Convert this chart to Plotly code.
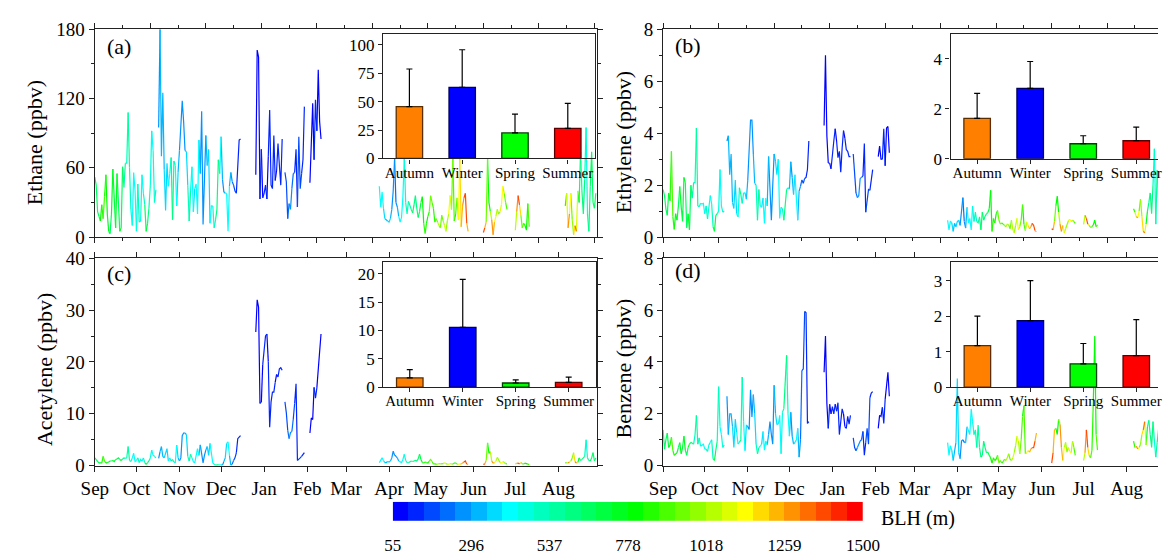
import datetime as dt
import plotly.graph_objects as go

# ---------------- data ----------------
START = dt.datetime(2013, 9, 1)
SEG_START = [0, 46, 116, 137, 155, 205, 280, 303, 339]   # day index from Sep 1
SEG_LEN = [45, 60, 20, 15, 9, 65, 18, 11, 23]

ethane = [52, 45, 22, 18, 14, 28, 16, 35, 54, 20, 5, 3, 20, 59, 35, 8, 55, 30, 5, 8,
          61, 43, 64, 64, 108, 60, 24, 10, 56, 40, 5, 46, 13, 14, 54, 38, 28, 5, 12, 25,
          45, 92, 75, 30, 41,
          95, 180, 70, 125, 59, 23, 64, 44, 55, 69, 15, 66, 62, 27, 56, 75, 102, 118, 100, 75,
          74, 45, 14, 40, 61, 22, 42, 46, 20, 84, 55, 109, 11, 50, 88, 62, 76, 12, 27, 27,
          8, 15, 24, 67, 55, 87, 50, 39, 38, 38, 5, 44, 56, 48, 45, 40, 38, 60, 84, 85,
          54, 162, 156, 33, 76, 34, 38, 45, 33, 70, 110, 45, 42, 88, 49, 58, 81, 62, 45, 85,
          56, 48, 16, 29, 24, 42, 55, 56, 76, 26, 87, 42, 55, 67, 113,
          47, 80, 116, 67, 119, 92, 145, 100, 85,
          44, 26, 39, 25, 16, 15, 14, 13, 16, 24, 40, 68, 30, 26, 18, 13, 17, 35, 68, 30,
          20, 31, 28, 24, 21, 28, 36, 25, 17, 22, 30, 35, 12, 3, 12, 18, 22, 36, 30, 25,
          13, 16, 13, 10, 8, 19, 14, 10, 5, 14, 20, 36, 24, 68, 14, 20, 34, 15, 68, 9,
          27, 34, 38, 12, 5,
          4, 8, 13, 68, 30, 22, 15, 2, 13, 18, 24, 20, 22, 28, 44, 38, 30, 24,
          6, 22, 36, 28, 19, 8, 12, 10, 6, 29, 9,
          27, 38, 8, 20, 38, 15, 2, 10, 5, 40, 30, 74, 40, 20, 50, 95, 20, 5, 44, 74, 30, 25, 38]

ethylene = [1.83, 1.6, 1.09, 0.84, 1.7, 1.4, 3.3, 0.8, 0.3, 0.9, 0.65, 1.2, 1.95, 1.2, 0.6,
            2.3, 2.1, 0.35, 0.9, 0.28, 2.0, 1.5, 2.1, 2.1, 4.2, 1.2, 1.17, 1.3, 1.27, 1.3,
            0.9, 1.2, 0.7, 1.1, 1.6, 1.27, 0.4, 0.22, 0.84, 0.9, 1.0, 2.6, 1.2, 0.96, 1.0,
            3.7, 3.9, 2.4, 3.2, 1.33, 1.1, 2.2, 0.9, 0.78, 1.9, 1.64, 1.3, 1.7, 1.7, 1.46,
            2.2, 3.3, 4.5, 4.5, 3.2, 2.07, 2.0, 0.65, 1.83, 1.2, 1.15, 1.5, 0.53, 1.5, 1.2,
            3.1, 1.9, 0.65, 2.0, 3.2, 2.9, 2.4, 3.0, 0.72, 1.15, 1.09, 0.65, 1.33, 1.83, 1.9,
            1.85, 2.9, 2.3, 1.64, 2.4, 1.27, 0.65, 1.77, 1.95, 2.2, 2.07, 2.26, 2.3, 2.6, 3.7,
            4.3, 7.0, 3.9, 2.85, 2.85, 2.63, 3.3, 3.7, 4.17, 3.7, 3.06, 3.3, 2.5, 3.43, 4.1,
            3.8, 3.37, 3.3, 3.1, 3.1,
            3.2, 2.4, 1.7, 1.52, 1.6, 2.26, 2.3, 2.35, 3.6, 0.96, 1.46, 1.83, 1.8, 2.26, 2.6,
            3.1, 3.5, 3.0, 3.0, 4.17, 2.75, 4.2, 4.26, 3.25,
            0.65, 0.28, 0.62, 0.55, 0.22, 0.53, 0.4, 0.6, 0.65, 0.45, 1.09, 1.52, 0.6, 0.35, 1.15,
            0.55, 0.72, 0.28, 1.2, 0.6, 0.96, 0.6, 0.55, 0.78, 0.28, 0.96, 0.65, 0.8, 0.9, 0.95,
            1.09, 1.8, 0.22, 0.72, 0.55, 0.9, 1.02, 0.65, 0.5, 0.55, 0.5, 0.45, 0.4, 0.5, 0.47,
            0.32, 0.65, 0.3, 0.16, 0.45, 0.72, 0.28, 0.4, 0.65, 1.25, 0.5, 0.25, 0.59, 0.45, 0.32,
            0.4, 0.53, 0.45, 0.25, 0.2,
            0.32, 0.28, 0.6, 1.2, 1.58, 0.96, 0.5, 0.22, 0.45, 0.16, 0.32, 0.5, 0.62, 0.69, 0.6,
            0.65, 0.6, 0.53,
            0.49, 0.84, 0.72, 0.5, 0.45, 0.37, 0.4, 0.47, 0.65, 0.4, 0.47,
            1.09, 0.96, 0.78, 0.75, 1.0, 1.46, 0.8, 0.22, 0.16, 0.5, 1.0, 1.33, 1.7, 0.9, 2.0,
            3.4, 0.5, 2.57, 1.5, 2.2, 1.6, 1.2, 1.8]

acetylene = [1.5, 1.2, 0.8, 0.5, 0.6, 0.5, 1.8, 0.9, 0.5, 0.6, 0.7, 0.9, 0.9, 1.0, 0.8,
             1.2, 1.3, 1.5, 1.2, 1.0, 1.3, 1.5, 1.4, 1.5, 3.7, 1.0, 0.8, 1.5, 2.4, 0.8,
             1.0, 1.5, 0.6, 1.2, 0.9, 1.5, 0.6, 0.25, 0.6, 0.9, 1.5, 3.0, 2.0, 1.8, 1.5,
             1.4, 2.7, 3.7, 1.8, 1.5, 2.5, 3.3, 0.9, 1.5, 0.9, 1.2, 0.7, 0.55, 4.0, 1.5,
             0.9, 1.5, 5.8, 6.3, 6.3, 6.0, 1.8, 0.9, 2.2, 1.5, 0.8, 0.55, 1.8, 3.3, 2.0,
             4.0, 2.4, 0.55, 2.0, 3.0, 3.7, 2.0, 4.3, 2.1, 0.55, 0.25, 0.15, 0.1, 0.2, 0.1,
             0.15, 0.1, 0.8, 1.5, 4.3, 4.6, 2.0, 0.1, 0.3, 1.0, 1.5, 2.5, 5.2, 5.5, 5.8,
             25.8, 32.0, 30.6, 12.0, 12.3, 19.5, 22.0, 25.0, 25.4, 20.1, 7.4, 12.3, 14.2, 14.2,
             16.1, 17.6, 17.1, 18.7, 18.9, 18.4,
             12.3, 10.2, 6.8, 5.2, 6.4, 6.6, 9.0, 12.0, 15.8, 1.0, 1.2, 1.5, 1.8, 2.1, 2.5,
             6.3, 9.2, 8.9, 15.1, 13.0, 15.0, 19.5, 22.0, 25.4,
             0.6, 1.2, 1.5, 1.0, 0.6, 0.6, 0.8, 0.7, 0.9, 1.5, 2.8, 2.0, 1.8, 1.5, 0.9,
             0.7, 0.6, 1.2, 2.2, 1.0, 0.6, 0.55, 0.7, 0.9, 0.8, 0.9, 1.0, 0.9, 1.3, 2.2,
             1.2, 0.6, 0.55, 0.7, 0.6, 0.5, 0.9, 1.2, 0.8, 0.3, 0.4, 0.25, 0.3, 0.4, 0.35,
             0.3, 0.4, 0.55, 0.4, 0.3, 0.25, 0.4, 0.35, 0.3, 0.5, 0.55, 0.3, 0.25, 0.35, 0.3,
             0.5, 0.7, 0.9, 0.3, 0.25,
             0.25, 0.3, 1.0, 4.4, 2.4, 2.7, 0.9, 0.5, 0.6, 0.9, 1.6, 1.2, 0.6, 0.5, 0.8,
             0.6, 0.4, 0.35,
             0.3, 0.45, 0.5, 0.35, 0.6, 0.4, 0.3, 0.5, 0.35, 0.3, 0.2,
             0.55, 0.6, 0.5, 0.7, 0.9, 1.5, 2.5, 0.8, 0.5, 0.6, 1.5, 1.0, 1.2, 1.5, 1.8,
             5.0, 1.5, 1.0, 0.9, 1.5, 2.5, 0.9, 1.5]

benzene = [1.38, 0.64, 1.0, 1.26, 0.7, 0.8, 1.1, 0.6, 0.4, 0.45, 0.5, 0.7, 0.89, 0.46, 0.7,
           1.14, 0.6, 0.4, 0.7, 0.83, 0.9, 0.85, 0.83, 1.2, 1.94, 0.83, 1.07, 0.75, 0.8, 0.83,
           0.65, 0.64, 0.55, 0.8, 0.9, 1.0, 0.27, 0.2, 0.6, 0.95, 3.05, 1.5, 1.2, 0.7, 0.8,
           2.68, 1.2, 2.0, 2.0, 1.5, 0.7, 1.8, 1.3, 0.83, 0.9, 1.0, 3.42, 1.7, 0.58, 1.57,
           1.5, 1.4, 2.93, 1.88, 2.74, 2.0, 0.83, 0.46, 0.7, 0.75, 0.83, 1.32, 0.6, 0.95, 0.8,
           1.2, 1.7, 1.2, 0.83, 3.1, 2.0, 1.6, 1.6, 1.94, 0.46, 2.06, 2.2, 3.1, 4.26, 2.0,
           1.14, 2.06, 1.14, 0.83, 0.9, 1.0, 1.44, 0.33, 1.0, 3.67, 3.73, 5.95, 5.9, 1.63, 1.7,
           3.6, 5.0, 2.4, 1.44, 2.37, 2.0, 2.28, 2.0, 2.37, 2.1, 2.43, 1.2, 1.6, 2.19, 2.0,
           1.5, 1.44, 1.9, 1.6, 1.94,
           1.07, 0.7, 0.58, 0.7, 0.83, 0.95, 1.0, 1.32, 0.4, 0.9, 1.44, 0.83, 2.62, 2.8, 2.86,
           1.44, 1.94, 1.9, 2.25, 1.63, 2.56, 3.17, 3.6, 2.68,
           0.89, 0.4, 0.77, 0.6, 0.2, 0.6, 0.9, 3.36, 0.5, 0.27, 0.95, 1.0, 0.9, 0.89, 1.5,
           1.38, 1.2, 2.19, 1.7, 1.2, 1.38, 0.7, 1.57, 0.7, 0.33, 0.4, 0.95, 0.7, 0.5, 0.52,
           0.4, 0.3, 0.1, 0.3, 0.2, 0.25, 0.4, 0.1, 0.2, 0.1, 0.15, 0.25, 0.2, 0.3, 0.46,
           0.25, 0.2, 0.3, 0.5, 0.77, 1.14, 0.95, 0.45, 1.0, 1.9, 2.31, 0.46, 0.5, 0.58, 0.52,
           0.64, 0.7, 0.7, 0.95, 1.26,
           0.1, 0.5, 1.38, 1.44, 1.2, 1.8, 1.6, 0.7, 0.2, 0.7, 0.9, 0.52, 0.7, 0.55, 0.5,
           0.95, 0.7, 0.4,
           0.2, 0.5, 1.38, 0.7, 0.4, 0.3, 0.6, 2.5, 5.0, 1.2, 0.6,
           0.95, 0.7, 0.75, 0.64, 0.7, 0.83, 1.2, 1.38, 1.7, 0.8, 1.5, 1.75, 1.2, 0.7, 1.7,
           0.95, 0.33, 0.9, 1.4, 0.8, 1.1, 1.5, 0.9]

blh = [700, 650, 620, 680, 760, 820, 900, 880, 850, 760, 720, 650, 700, 760, 620,
       800, 700, 650, 700, 760, 600, 560, 520, 480, 540, 600, 470, 450, 430, 420,
       450, 480, 500, 470, 430, 450, 600, 720, 700, 560, 480, 450, 420, 500, 480,
       300, 280, 320, 300, 350, 380, 330, 400, 450, 520, 650, 480, 420, 380, 350,
       300, 280, 250, 260, 300, 350, 420, 620, 480, 420, 380, 400, 450, 420, 380,
       300, 260, 250, 280, 300, 350, 400, 380, 420, 450, 500, 520, 680, 560, 450,
       380, 300, 280, 350, 420, 450, 380, 300, 250, 200, 180, 150, 130, 150, 140,
       80, 70, 90, 100, 110, 90, 120, 140, 100, 90, 120, 150, 130, 110, 100, 90, 120, 140, 130, 110,
       150, 180, 200, 260, 300, 220, 180, 150, 130, 140, 200, 170, 150, 120, 100,
       100, 90, 80, 100, 120, 110, 90, 80, 100,
       450, 400, 420, 380, 350, 330, 300, 400, 360, 300, 280, 220, 260, 300, 380,
       420, 450, 400, 430, 480, 520, 550, 580, 560, 620, 650, 600, 580, 620, 680,
       720, 760, 820, 880, 850, 800, 900, 950, 920, 880, 850, 900, 1000, 1050, 950,
       900, 980, 1100, 1050, 950, 1150, 1100, 1000, 900, 850, 800, 1000, 1100, 1150, 1200,
       1250, 1350, 1420, 1300, 1200,
       1400, 1350, 1100, 800, 780, 850, 1250, 1300, 1200, 1100, 1000, 950, 1050, 1150, 1100,
       950, 900, 850,
       900, 1200, 1400, 1350, 1000, 900, 850, 820, 800, 850, 900,
       800, 900, 1250, 1300, 1000, 900, 1100, 1300, 1350, 850, 700, 550, 600, 650, 600,
       450, 520, 560, 650, 700, 600, 650, 700]

SEASONS = ["Autumn", "Winter", "Spring", "Summer"]
ethane_mean = [45.6, 62.5, 22.5, 26.5]
ethane_err = [33.0, 33.0, 16.5, 22.0]
ethylene_mean = [1.62, 2.82, 0.6, 0.72]
ethylene_err = [1.0, 1.08, 0.32, 0.55]
acetylene_mean = [1.65, 10.55, 0.75, 0.85]
acetylene_err = [1.45, 8.45, 0.55, 0.95]
benzene_mean = [1.17, 1.87, 0.66, 0.89]
benzene_err = [0.83, 1.13, 0.57, 1.01]

BLH_MIN, BLH_MAX, N_BINS = 55, 1500, 30
BLH_TICKS = [55, 296, 537, 778, 1018, 1259, 1500]
BAR_COLORS = ["#ff8000", "#0000ff", "#00ff00", "#ff0000"]
BAR_EDGES = ["#5a2d00", "#00005a", "#004000", "#5a0000"]

# ---------------- helpers ----------------
W, H = 1175, 558
FONT = "Liberation Serif"
AX = "#222222"


def fx(p):
    return p / W


def fy(p):
    return 1 - p / H


def day_date(d):
    return (START + dt.timedelta(days=d)).strftime("%Y-%m-%d %H:%M")


def palette():
    stops = [(0, (0, 0, 255)), (7, (0, 255, 255)), (15, (0, 255, 0)),
             (22, (255, 255, 0)), (29, (255, 0, 0))]
    cols = []
    for k in range(N_BINS):
        for (i0, c0), (i1, c1) in zip(stops[:-1], stops[1:]):
            if i0 <= k <= i1:
                t = (k - i0) / (i1 - i0)
                c = tuple(round(a + (b - a) * t) for a, b in zip(c0, c1))
                break
        cols.append("rgb(%d,%d,%d)" % c)
    return cols


PAL = palette()
STEP = (BLH_MAX - BLH_MIN) / N_BINS


def cidx(v):
    return max(0, min(N_BINS - 1, int((v - BLH_MIN) // STEP)))


def series_traces(values, xa, ya):
    runs = []
    pos = 0
    for start, n in zip(SEG_START, SEG_LEN):
        vals = values[pos:pos + n]
        bl = blh[pos:pos + n]
        cur = None
        for i in range(n - 1):
            c = cidx((bl[i] + bl[i + 1]) / 2)
            if cur is not None and cur[0] == c:
                cur[1].append(start + i + 1)
                cur[2].append(vals[i + 1])
            else:
                cur = [c, [start + i, start + i + 1], [vals[i], vals[i + 1]]]
                runs.append(cur)
        pos += n
    groups = {}
    for c, xs, ys in runs:
        g = groups.setdefault(c, ([], []))
        g[0].extend([day_date(d) for d in xs] + [None])
        g[1].extend(ys + [None])
    traces = []
    for c in sorted(groups):
        xs, ys = groups[c]
        traces.append(go.Scatter(x=xs, y=ys, mode="lines", xaxis=xa, yaxis=ya,
                                 line=dict(color=PAL[c], width=1.2),
                                 connectgaps=False, hoverinfo="skip", showlegend=False))
    return traces


def bar_trace(mean, err, xa, ya):
    return go.Bar(x=SEASONS, y=mean, width=0.5, xaxis=xa, yaxis=ya, showlegend=False,
                  marker=dict(color=BAR_COLORS, line=dict(color=BAR_EDGES, width=1.3)),
                  error_y=dict(type="data", symmetric=False, array=err,
                               arrayminus=[0] * 4, color="black", thickness=1.2, width=3))


fig = go.Figure()

# insets first (underneath the series lines)
fig.add_trace(bar_trace(ethane_mean, ethane_err, "x5", "y5"))
fig.add_trace(bar_trace(ethylene_mean, ethylene_err, "x6", "y6"))
fig.add_trace(bar_trace(acetylene_mean, acetylene_err, "x7", "y7"))
fig.add_trace(bar_trace(benzene_mean, benzene_err, "x8", "y8"))

for tr in series_traces(ethane, "x", "y"):
    fig.add_trace(tr)
for tr in series_traces(ethylene, "x2", "y2"):
    fig.add_trace(tr)
for tr in series_traces(acetylene, "x3", "y3"):
    fig.add_trace(tr)
for tr in series_traces(benzene, "x4", "y4"):
    fig.add_trace(tr)

# colour scale legend (discrete BLH bins)
fig.add_trace(go.Heatmap(z=[list(range(N_BINS))], x0=BLH_MIN + STEP / 2, dx=STEP, y=[0],
                         colorscale=[[k / (N_BINS - 1), PAL[k]] for k in range(N_BINS)],
                         zmin=0, zmax=N_BINS - 1, showscale=False, hoverinfo="skip",
                         xaxis="x9", yaxis="y9"))

tickfont_main = dict(family=FONT, size=19, color="black")
LEFT_END = day_date(362)
RIGHT_END = day_date(356.6)
DAY_MS = 86400000


def xaxis_main(dom, end, bottom, anchor):
    d = dict(domain=dom, type="date", range=[day_date(0), end], anchor=anchor,
             showgrid=False, zeroline=False, showline=True, linecolor=AX, linewidth=1.3,
             mirror="ticks", ticks="outside", ticklen=5, tickwidth=1.2, tickcolor=AX,
             tickfont=dict(family=FONT, size=19, color="black"))
    if bottom:
        d.update(tick0=day_date(0), dtick="M1", tickformat="%b", showticklabels=True)
    else:
        d.update(tick0=day_date(0), dtick=40 * DAY_MS, showticklabels=False,
                 minor=dict(dtick=20 * DAY_MS, tick0=day_date(0), ticks="outside",
                            ticklen=3, tickcolor=AX))
    return d


def yaxis_main(dom, rng, dtick, anchor, mirror):
    return dict(domain=dom, range=rng, dtick=dtick, tick0=0, anchor=anchor,
                showgrid=False, zeroline=False, showline=True, linecolor=AX, linewidth=1.3,
                mirror="ticks" if mirror else False, ticks="outside", ticklen=5,
                tickwidth=1.2, tickcolor=AX, tickfont=tickfont_main,
                minor=dict(dtick=dtick / 2, ticks="outside", ticklen=3, tickcolor=AX))


def xaxis_inset(dom, rng, anchor):
    return dict(domain=dom, range=rng, anchor=anchor, type="category", showgrid=False,
                zeroline=False, showline=True, linecolor=AX, linewidth=1.3, mirror=True,
                ticks="outside", ticklen=4, tickcolor=AX, ticklabelstandoff=-4,
                tickfont=dict(family=FONT, size=15, color="black"))


def yaxis_inset(dom, rng, dtick, anchor, mirror):
    return dict(domain=dom, range=rng, dtick=dtick, tick0=0, anchor=anchor, showgrid=False,
                zeroline=False, showline=True, linecolor=AX, linewidth=1.3, mirror=mirror,
                ticks="outside", ticklen=4, tickcolor=AX,
                tickfont=dict(family=FONT, size=17, color="black"))


LX = [fx(83), fx(599)]
RX = [fx(666.7), 1.0]
TY = [fy(236), fy(20)]
BY = [fy(473.5), fy(258)]

layout = dict(
    width=W, height=H, margin=dict(l=0, r=0, t=0, b=0),
    paper_bgcolor="white", plot_bgcolor="rgba(0,0,0,0)", showlegend=False,
    font=dict(family=FONT, color="black"),
    xaxis=xaxis_main(LX, LEFT_END, False, "y"),
    yaxis=yaxis_main(TY, [0, 180], 60, "x", True),
    xaxis2=xaxis_main(RX, RIGHT_END, False, "y2"),
    yaxis2=yaxis_main(TY, [0, 8], 2, "x2", False),
    xaxis3=xaxis_main(LX, LEFT_END, True, "y3"),
    yaxis3=yaxis_main(BY, [0, 40], 10, "x3", True),
    xaxis4=xaxis_main(RX, RIGHT_END, True, "y4"),
    yaxis4=yaxis_main(BY, [0, 8], 2, "x4", False),
    xaxis5=xaxis_inset([fx(379), fx(597)], [-0.5, 3.52], "y5"),
    yaxis5=yaxis_inset([fy(154.3), fy(25)], [0, 109.3], 25, "x5", True),
    xaxis6=xaxis_inset([fx(962), 1.0], [-0.5, 3.41], "y6"),
    yaxis6=yaxis_inset([fy(154.5), fy(25)], [0, 5.0], 2, "x6", False),
    xaxis7=xaxis_inset([fx(379.3), fx(598)], [-0.5, 3.52], "y7"),
    yaxis7=yaxis_inset([fy(392), fy(262.3)], [0, 22], 5, "x7", True),
    xaxis8=xaxis_inset([fx(962.3), 1.0], [-0.5, 3.41], "y8"),
    yaxis8=yaxis_inset([fy(392), fy(262.3)], [0, 3.51], 1, "x8", False),
    xaxis9=dict(domain=[fx(389), fx(872)], range=[BLH_MIN, BLH_MAX], anchor="y9",
                tickvals=BLH_TICKS, ticktext=[str(v) for v in BLH_TICKS],
                ticks="outside", ticklen=9, tickcolor="rgba(0,0,0,0)",
                showline=False, showgrid=False, zeroline=False,
                tickfont=dict(family=FONT, size=17, color="black")),
    yaxis9=dict(domain=[fy(531), fy(511)], range=[-0.5, 0.5], anchor="x9", visible=False),
)

ann = []
for text, x, y in [("Ethane (ppbv)", 21, 138), ("Ethylene (ppbv)", 626, 137),
                   ("Acetylene (ppbv)", 32, 374), ("Benzene (ppbv)", 626, 372)]:
    ann.append(dict(text=text, x=fx(x), y=fy(y), xref="paper", yref="paper",
                    xanchor="center", yanchor="middle", textangle=-90, showarrow=False,
                    font=dict(family=FONT, size=22, color="black")))
for text, x, y in [("(a)", 108, 38), ("(b)", 692, 37), ("(c)", 108, 274), ("(d)", 692, 271)]:
    ann.append(dict(text=text, x=fx(x), y=fy(y), xref="paper", yref="paper",
                    xanchor="center", yanchor="middle", showarrow=False,
                    font=dict(family=FONT, size=22, color="black")))
ann.append(dict(text="BLH (m)", x=fx(888), y=fy(528), xref="paper", yref="paper",
                xanchor="left", yanchor="middle", showarrow=False,
                font=dict(family=FONT, size=20, color="black")))
layout["annotations"] = ann

fig.update_layout(**layout)
fig.write_html("out.html")
